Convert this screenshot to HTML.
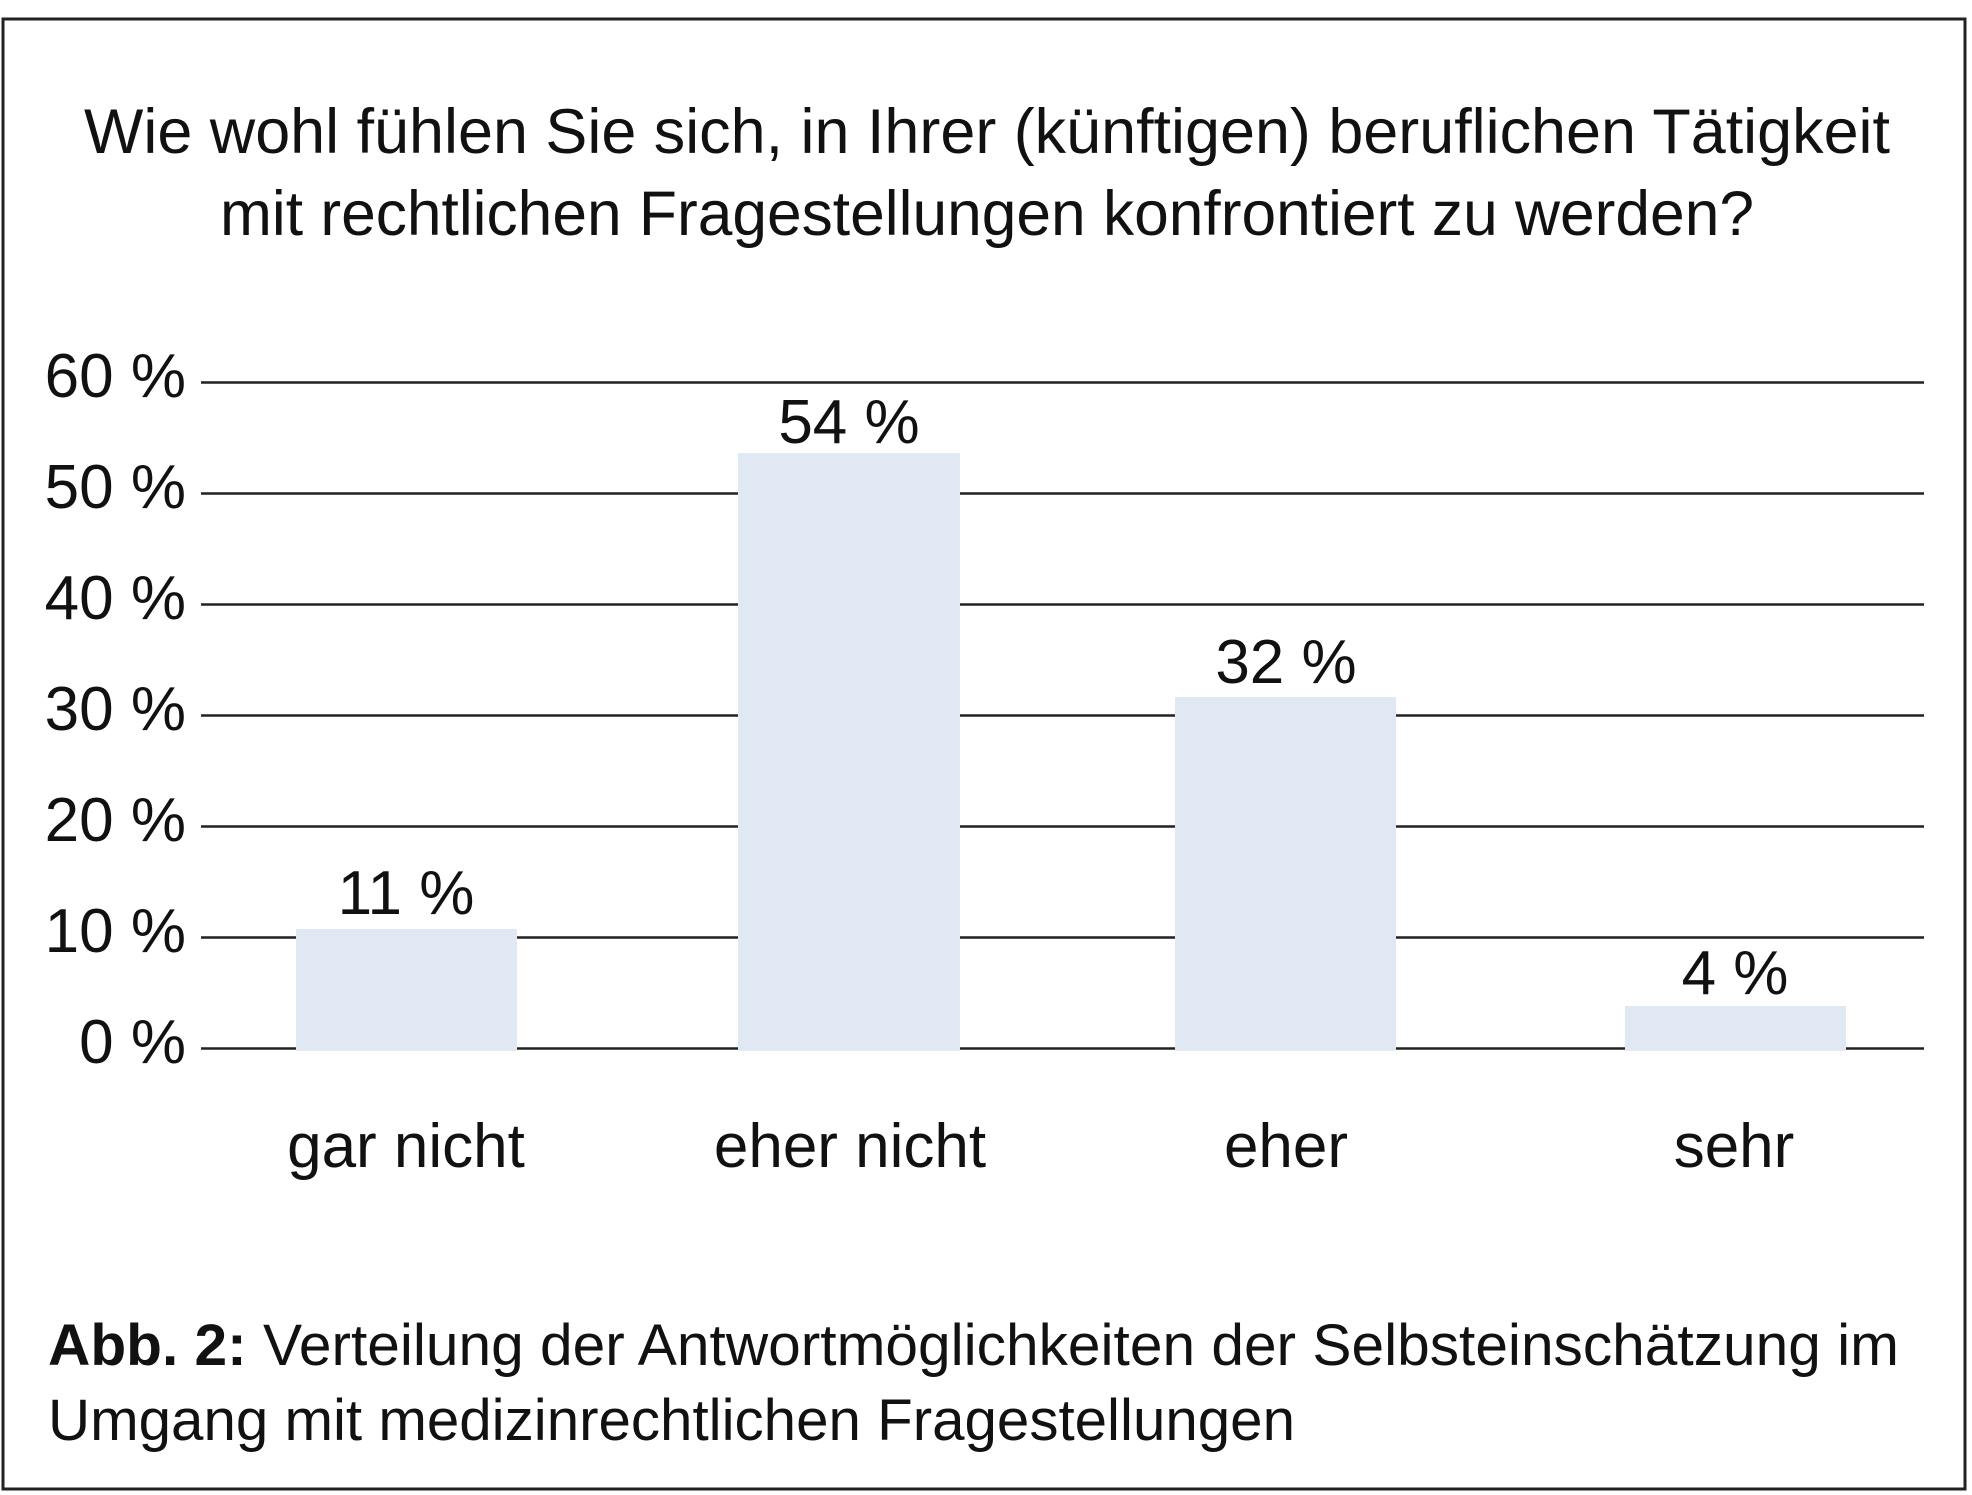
<!DOCTYPE html>
<html><head><meta charset="utf-8"><style>
html,body{margin:0;padding:0;background:#fff;}
svg{display:block;}
text{font-family:"Liberation Sans Narrow","Liberation Sans",sans-serif;fill:#111;}
</style></head><body>
<svg width="1972" height="1495" viewBox="0 0 1972 1495" xmlns="http://www.w3.org/2000/svg">
<rect x="3" y="19" width="1962" height="1470" fill="none" stroke="#222" stroke-width="3"/>
<text x="84" y="153" font-size="63" textLength="1806" lengthAdjust="spacingAndGlyphs">Wie wohl fühlen Sie sich, in Ihrer (künftigen) beruflichen Tätigkeit</text>
<text x="220" y="235" font-size="63" textLength="1534" lengthAdjust="spacingAndGlyphs">mit rechtlichen Fragestellungen konfrontiert zu werden?</text>
<g stroke="#222" stroke-width="2.5">
<line x1="201" y1="382.5" x2="1924" y2="382.5"/>
<line x1="201" y1="493.5" x2="1924" y2="493.5"/>
<line x1="201" y1="604.5" x2="1924" y2="604.5"/>
<line x1="201" y1="715.5" x2="1924" y2="715.5"/>
<line x1="201" y1="826.5" x2="1924" y2="826.5"/>
<line x1="201" y1="937.5" x2="1924" y2="937.5"/>
<line x1="201" y1="1048.5" x2="1924" y2="1048.5"/>
</g>
<g fill="#dfe8f3">
<rect x="296" y="929" width="221" height="122"/>
<rect x="738" y="453" width="222" height="598"/>
<rect x="1175" y="697" width="221" height="354"/>
<rect x="1625" y="1006" width="221" height="45"/>
</g>
<g font-size="62" text-anchor="end">
<text x="186" y="397">60 %</text>
<text x="186" y="508">50 %</text>
<text x="186" y="619">40 %</text>
<text x="186" y="730">30 %</text>
<text x="186" y="841">20 %</text>
<text x="186" y="952">10 %</text>
<text x="186" y="1063">0 %</text>
</g>
<g font-size="62" text-anchor="middle">
<text x="406" y="914">11 %</text>
<text x="849" y="443">54 %</text>
<text x="1286" y="683">32 %</text>
<text x="1735" y="994">4 %</text>
<text x="406" y="1167">gar nicht</text>
<text x="850" y="1167">eher nicht</text>
<text x="1286" y="1167">eher</text>
<text x="1734" y="1167">sehr</text>
</g>
<text x="48" y="1365" font-size="58" textLength="1851" lengthAdjust="spacingAndGlyphs"><tspan font-weight="bold">Abb. 2:</tspan> Verteilung der Antwortmöglichkeiten der Selbsteinschätzung im</text>
<text x="48" y="1440" font-size="58" textLength="1247" lengthAdjust="spacingAndGlyphs">Umgang mit medizinrechtlichen Fragestellungen</text>
</svg>
</body></html>
